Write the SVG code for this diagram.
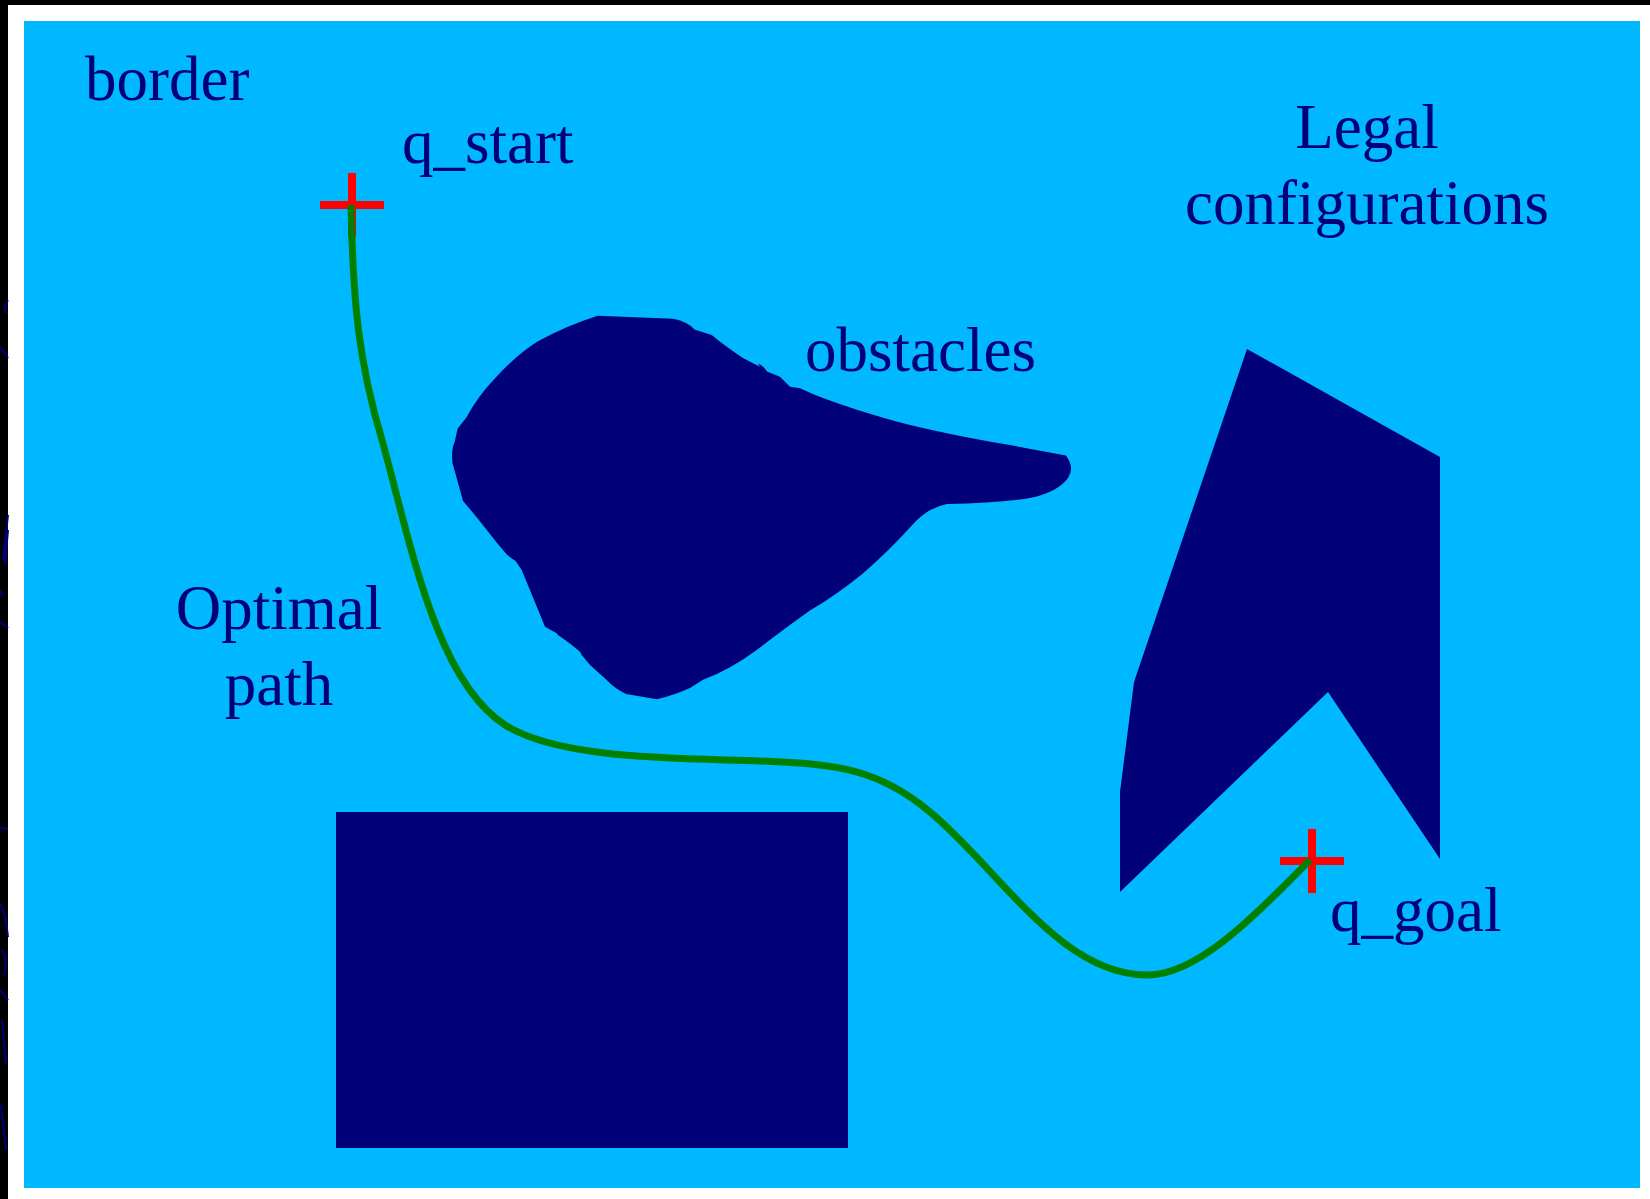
<svg xmlns="http://www.w3.org/2000/svg" width="1650" height="1199" viewBox="0 0 1650 1199">
<style>
.lbl{font-family:"Liberation Serif","Times New Roman",serif;font-size:63px;fill:#000078}
.obs{fill:#000078}
.cross{stroke:#FF0000;stroke-width:8;fill:none}
.frag{stroke:#000078;stroke-width:2;fill:none}
</style>
<rect x="0" y="0" width="1650" height="1199" fill="#FFFFFF"/>
<rect x="0" y="0" width="1650" height="5" fill="#000000"/>
<rect x="0" y="0" width="8" height="1199" fill="#000000"/>
<g id="edge-fragments">
<path class="frag" d="M8,300 Q3,306 6,314"/>
<path class="frag" d="M0,347 L8,358"/>
<path class="frag" d="M8,515 L3,560 M8,530 L5,565"/>
<path class="frag" d="M0,590 L2,597"/>
<path class="frag" d="M0,622 L8,628"/>
<path class="frag" d="M0,828 L8,829"/>
<path class="frag" d="M0,903 Q6,915 8,937"/>
<path class="frag" d="M2,950 Q8,960 4,975 M0,990 L8,1000 M2,1020 L6,1065"/>
<path class="frag" d="M1,1105 L6,1150"/>
</g>
<rect id="config-space" x="24" y="21" width="1616" height="1167" fill="#00B8FF"/>
<g id="obstacle-blob">
<path class="obs" d="M597.7,315.7 L673.5,318.8 Q688,322 694.5,329.4 L711.7,335 Q725,346 743.3,358.3 L760,366.7 L758,363.5 Q764,366 767,371.5 L780,376.7 L790,386.7 L800,388.3 Q812,394 823,398 Q855,410 894.5,420.9 Q940,433 1010,445.1 L1066,455.6 Q1075,468 1068,478 Q1058,492 1031.3,497.7 Q1000,503 947,504 Q930,507 915,522 Q890,550 862.9,573.5 Q835,596 810.3,610.3 Q780,632 757.7,649.3 Q730,670 703,679.8 L690,688 Q675,695 656.7,699.3 L626,694 Q614,688 606.7,680 L590,665 L581.7,655 L580,651.7 Q570,643 558,635 L556.7,633.3 L545,626.7 L521.7,570 L515.6,560.9 Q508,556 505.1,552.5 Q495,541 486.2,529.3 Q475,515 463,500.9 L452.5,463 Q451,450 454.6,442 L457.8,428.3 L466.2,417.8 Q478,396 494.6,378.8 Q515,356 536.7,342 Q565,326 597.7,315.7 Z"/>
</g>
<g id="obstacle-polygon">
<polygon class="obs" points="1247,349 1440,457 1440,859 1328,692 1120,892 1120,792 1134,682"/>
</g>
<g id="obstacle-rect">
<rect class="obs" x="336" y="812" width="512" height="336"/>
</g>
<g id="q-start">
<path class="cross" d="M320,205 H384 M352,173 V237"/>
</g>
<g id="q-goal">
<path class="cross" d="M1280,861 H1344 M1312,829 V893"/>
</g>
<g id="connectors">
<path id="optimal-path" d="M351,205 C353,300 358,360 382,440 C410,540 435,680 505,725 C560,760 680,758 760,761 C840,764 880,770 930,812 C1000,870 1060,975 1147,975 C1200,975 1260,910 1310,860" fill="none" stroke="#008000" stroke-width="7"/>
</g>
<g id="labels">
<text class="lbl" x="85" y="100">border</text>
<text class="lbl" x="402" y="163">q_start</text>
<text class="lbl" x="1367" y="148" text-anchor="middle">Legal</text>
<text class="lbl" x="1367" y="224" text-anchor="middle">configurations</text>
<text class="lbl" x="805" y="371">obstacles</text>
<text class="lbl" x="279" y="629" text-anchor="middle">Optimal</text>
<text class="lbl" x="279" y="705" text-anchor="middle">path</text>
<text class="lbl" x="1330" y="931">q_goal</text>
</g>
</svg>
